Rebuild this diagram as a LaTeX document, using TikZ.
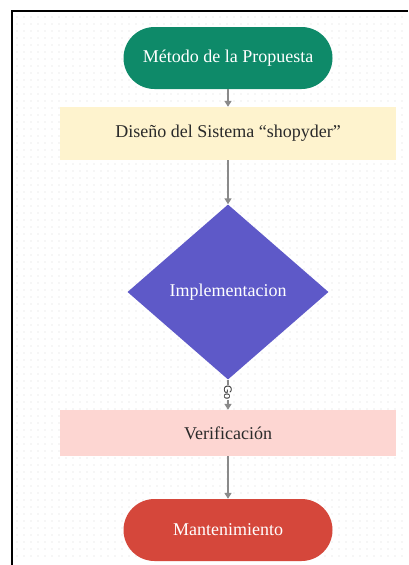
\documentclass[tikz,border=0pt]{standalone}
\usepackage{fontspec}
\setmainfont{Liberation Serif}
\newfontfamily\labelfont{Liberation Sans}
\usetikzlibrary{shapes.geometric,shapes.misc,arrows.meta}
\definecolor{startgreen}{HTML}{0E8A69}
\definecolor{boxyellow}{HTML}{FEF3CE}
\definecolor{diapurple}{HTML}{5E59C8}
\definecolor{boxpink}{HTML}{FDD6D2}
\definecolor{endred}{HTML}{D5473B}
\definecolor{linegray}{HTML}{8A8A8A}
\definecolor{dotgray}{HTML}{DADADA}
\definecolor{textdark}{HTML}{2A2A2A}
\tikzset{
  terminal/.style={rounded rectangle, minimum width=209pt, minimum height=62pt, inner sep=0pt, text=white, font=\fontsize{18}{21}\selectfont},
  procbox/.style={rectangle, minimum width=336pt, inner sep=0pt, text=textdark, font=\fontsize{18}{21}\selectfont},
  decision/.style={diamond, aspect=1.15, minimum width=201pt, minimum height=175pt, inner sep=0pt, fill=diapurple, text=white, font=\fontsize{18}{21}\selectfont},
  flow/.style={draw=linegray, line width=1.5pt, -{Triangle[length=6pt,width=7pt]}},
}
\begin{document}
\begin{tikzpicture}[x=1pt,y=-1pt]
\useasboundingbox (0,0) rectangle (408,565);
\fill[white] (0,0) rectangle (408,565);
% dot grid
\foreach \i in {0,...,55} {
  \foreach \j in {0,...,77} {
    \fill[dotgray] (17+7*\i, 17+7*\j) circle (0.7);
  }
}
% frame
\draw[line width=1.6pt] (12,565) -- (12,11) -- (408,11);
% nodes
\node[terminal, fill=startgreen] (start) at (228,58) {Método de la Propuesta};
\node[procbox, fill=boxyellow, minimum height=53pt] (design) at (228,133.5) {Diseño del Sistema “shopyder”};
\node[decision] (impl) at (228,292) {Implementacion};
\node[procbox, fill=boxpink, minimum height=46pt] (verif) at (228,433) {Verificación};
\node[terminal, fill=endred] (maint) at (228,530) {Mantenimiento};
% connectors
\draw[flow] (start.south) -- (design.north);
\draw[flow] (design.south) -- (impl.north);
\draw[flow] (impl.south) -- node[pos=0.42, fill=white, inner sep=0.5pt, rotate=-90, text=textdark, font=\labelfont\fontsize{11}{12}\selectfont] (golabel) {Go} (verif.north);
\draw[flow] (verif.south) -- (maint.north);
\end{tikzpicture}
\end{document}
